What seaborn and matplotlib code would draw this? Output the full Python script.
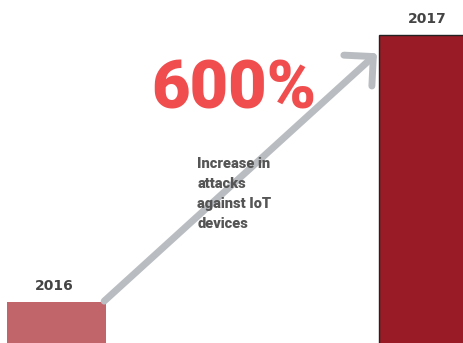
import matplotlib
matplotlib.use("Agg")
import matplotlib.pyplot as plt
import seaborn as sns
import pandas as pd

years = ["2016", "2017"]
attacks = [100, 700]
bar_colors = ["#c2656b", "#991b25"]
headline = "600%"
caption = "Increase in\nattacks\nagainst IoT\ndevices"

sns.set_theme(style="white")
plt.rcParams['font.family'] = ['DejaVu Sans']

df = pd.DataFrame({"year": years, "attacks": attacks})

fig = plt.figure(figsize=(4.64, 3.43), dpi=100)
ax = fig.add_axes([0, 0, 1, 1])
sns.barplot(data=df, x="year", y="attacks", hue="year", palette=bar_colors,
            width=0.266, legend=False, ax=ax, saturation=1)
for i, p in enumerate(ax.patches):
    if i == 1:
        p.set_edgecolor("#222222")
        p.set_linewidth(1.0)
    else:
        p.set_edgecolor("none")

ax.set_xlim(-0.152, 1.095)
ax.set_ylim(7.9, 778.7)
ax.axis("off")

for i, (y, v) in enumerate(zip(years, attacks)):
    ax.text(i - 0.005, v + 35, y, ha="center", va="center", fontsize=10,
            fontweight="bold", color="#444444")

# arrow
ax.annotate("", xy=(0.861, 659), xytext=(0.128, 102),
            arrowprops=dict(arrowstyle="->,head_length=1.25,head_width=1.25",
                            color="#b9bdc1", lw=5, shrinkA=0, shrinkB=0,
                            capstyle="round", joinstyle="round"),
            zorder=1)

rob = ['Roboto', 'DejaVu Sans']
ax.text(0.477, 575, headline, ha="center", va="center", fontsize=48,
        fontweight="black", color="#f04e4e", family=rob)

ax.text(0.378, 342, caption, ha="left", va="center", fontsize=10.5,
        fontweight="black", color="#555555", linespacing=1.55,
        family=rob)

fig.savefig("out.png", dpi=100)
